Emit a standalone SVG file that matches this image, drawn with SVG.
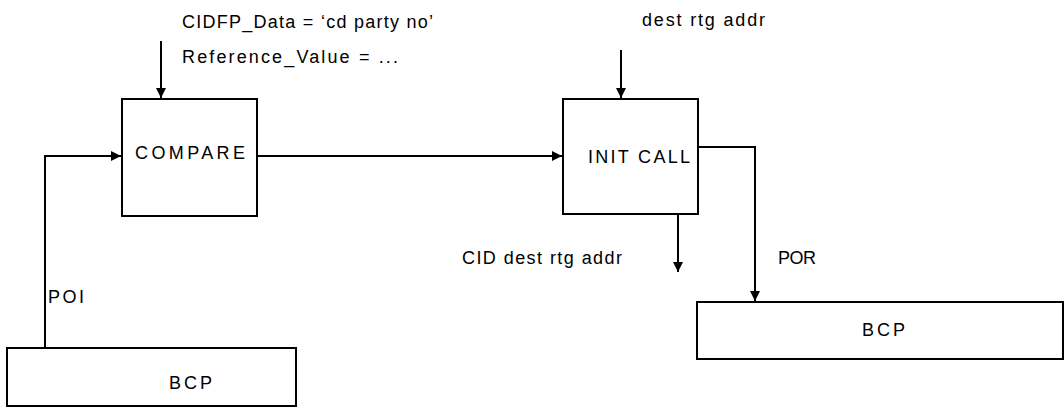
<svg xmlns="http://www.w3.org/2000/svg" width="1064" height="408" viewBox="0 0 1064 408">
<style>
.box{fill:#fff;stroke:#000;stroke-width:2}
.ln{fill:none;stroke:#000;stroke-width:2}
text{font-family:"Liberation Sans",Arial,sans-serif;font-size:18px;fill:#000}
</style>
<defs>
<marker id="ah" viewBox="0 0 10 10" refX="10" refY="5" markerWidth="10" markerHeight="10" markerUnits="userSpaceOnUse" orient="auto">
<path d="M0,0 L10,5 L0,10 Z" fill="#000"/>
</marker>
</defs>
<rect width="1064" height="408" fill="#fff"/>
<g id="connectors">
<line class="ln" x1="161" y1="41" x2="161" y2="98" marker-end="url(#ah)"/>
<polyline class="ln" points="45,348 45,156 121,156" marker-end="url(#ah)"/>
<line class="ln" x1="257" y1="156" x2="562" y2="156" marker-end="url(#ah)"/>
<line class="ln" x1="621" y1="50" x2="621" y2="98" marker-end="url(#ah)"/>
<line class="ln" x1="678" y1="215" x2="678" y2="272" marker-end="url(#ah)"/>
<polyline class="ln" points="698,147 755,147 755,301" marker-end="url(#ah)"/>
</g>
<g id="compare">
<rect class="box" x="122" y="99" width="135" height="117"/>
<text x="135" y="159" textLength="110" lengthAdjust="spacing">COMPARE</text>
</g>
<g id="initcall">
<rect class="box" x="563" y="99" width="135" height="115"/>
<text x="588" y="163" textLength="102" lengthAdjust="spacing">INIT CALL</text>
</g>
<g id="bcp-left">
<rect class="box" x="7" y="348" width="289" height="58"/>
<text x="169" y="389" textLength="43" lengthAdjust="spacing">BCP</text>
</g>
<g id="bcp-right">
<rect class="box" x="697" y="302" width="366" height="57"/>
<text x="862" y="336" textLength="43" lengthAdjust="spacing">BCP</text>
</g>
<g id="labels">
<text x="182" y="28" textLength="251" lengthAdjust="spacing">CIDFP_Data = ‘cd party no’</text>
<text x="182" y="63" textLength="216" lengthAdjust="spacing">Reference_Value = ...</text>
<text x="642" y="26" textLength="123" lengthAdjust="spacing">dest rtg addr</text>
<text x="462" y="264" textLength="160" lengthAdjust="spacing">CID dest rtg addr</text>
<text x="778" y="264" textLength="38" lengthAdjust="spacing">POR</text>
<text x="48" y="303" textLength="36" lengthAdjust="spacing">POI</text>
</g>
</svg>
